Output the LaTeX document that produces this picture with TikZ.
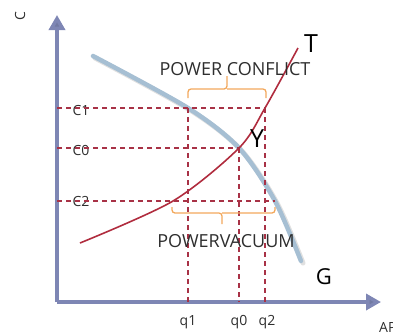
\documentclass[tikz,border=0pt]{standalone}
\usepackage{fontspec}
\setmainfont{Open Sans}
\usetikzlibrary{arrows.meta,positioning}

\definecolor{axisblue}{HTML}{7E86B4}
\definecolor{curvered}{HTML}{B02C3E}
\definecolor{guidered}{HTML}{A83246}
\definecolor{braceorange}{HTML}{F2A85C}
\definecolor{curveblue}{HTML}{A6BFD3}
\definecolor{txt}{HTML}{2E2E2E}

\begin{document}
\begin{tikzpicture}[
      x=1pt, y=-1pt,
      axis/.style={draw=axisblue, line width=3.5pt,
          -{Triangle[length=15pt, width=16pt, fill=axisblue!90!black]}},
      guide/.style={draw=guidered, line width=1.2pt, dash pattern=on 5pt off 4pt},
      brk/.style={draw=braceorange, line width=1.3pt, rounded corners=3pt},
      lbl/.style={font=\fontsize{14}{16}\selectfont, text=txt, inner sep=0pt},
      tag/.style={font=\fontsize{18}{21}\selectfont, text=txt, inner sep=0pt},
      big/.style={font=\fontsize{25}{29}\selectfont, text=black, inner sep=0pt},
    ]
    \useasboundingbox (0,0) rectangle (393,333);

    % axes
    \coordinate (O) at (57,302);
    \coordinate (ytop) at (57,15);
    \coordinate (xend) at (381,302);
    \draw[axis] (O) -- (ytop);
    \draw[axis] (O) -- (xend);
    \node[lbl, rotate=90] (ylab) at (20,16) {C};
    \node[lbl, anchor=north west] (xlab) at (379,322) {AP};

    % crossing points
    \coordinate (p1) at (188,108);
    \coordinate (p2) at (265,108);
    \coordinate (p0) at (239,148);
    \coordinate (p3) at (173,201);
    \coordinate (p4) at (275,201);

    % G curve with soft shadow
    \draw[line width=5pt, black, opacity=0.12, line cap=round]
      plot[smooth] coordinates {(95,58) (190,110) (241,150) (277,203) (303,263)};
    \draw[line width=4.5pt, curveblue, line cap=round]
      plot[smooth] coordinates {(93,56) (p1) (p0) (p4) (301,261)};

    % T curve
    \draw[curvered, line width=1.6pt]
      plot[smooth] coordinates {(80,243) (p3) (p0) (p2) (298,48)};

    % labels on the price axis
    \node[lbl] (c1) at (81,110) {C1};
    \node[lbl] (c0) at (81,150) {C0};
    \node[lbl] (c2) at (81,201) {C2};

    % guides
    \draw[guide] (O |- p1) -- (p2);
    \draw[guide] (O |- p0) -- (p0);
    \draw[guide] (O |- p4) -- (p4);
    \draw[guide] (p1) -- (p1 |- O);
    \draw[guide] (p0) -- (p0 |- O);
    \draw[guide] (p2 |- p1) -- (p2 |- O);

    \node[lbl] (q1) at (188,322) {q1};
    \node[lbl] (q0) at (239,322) {q0};
    \node[lbl] (q2) at (267,322) {q2};

    % brackets
    \draw[brk] (188,98) |- (227,89) -- (227,76);
    \draw[brk] (227,89) -| (266,98);
    \node[tag] (conflict) at (235,69) {POWER CONFLICT};

    \draw[brk] (172,207) |- (222,213) -- (222,224);
    \draw[brk] (222,213) -| (275,207);
    \node[tag] (vacuum) at (226,241) {POWERVACUUM};

    \node[big] (T) at (311,44) {T};
    \node[big] (Y) at (257,139) {Y};
    \node[big, font=\fontsize{22}{26}\selectfont] (G) at (324,277) {G};
  \end{tikzpicture}
\end{document}
